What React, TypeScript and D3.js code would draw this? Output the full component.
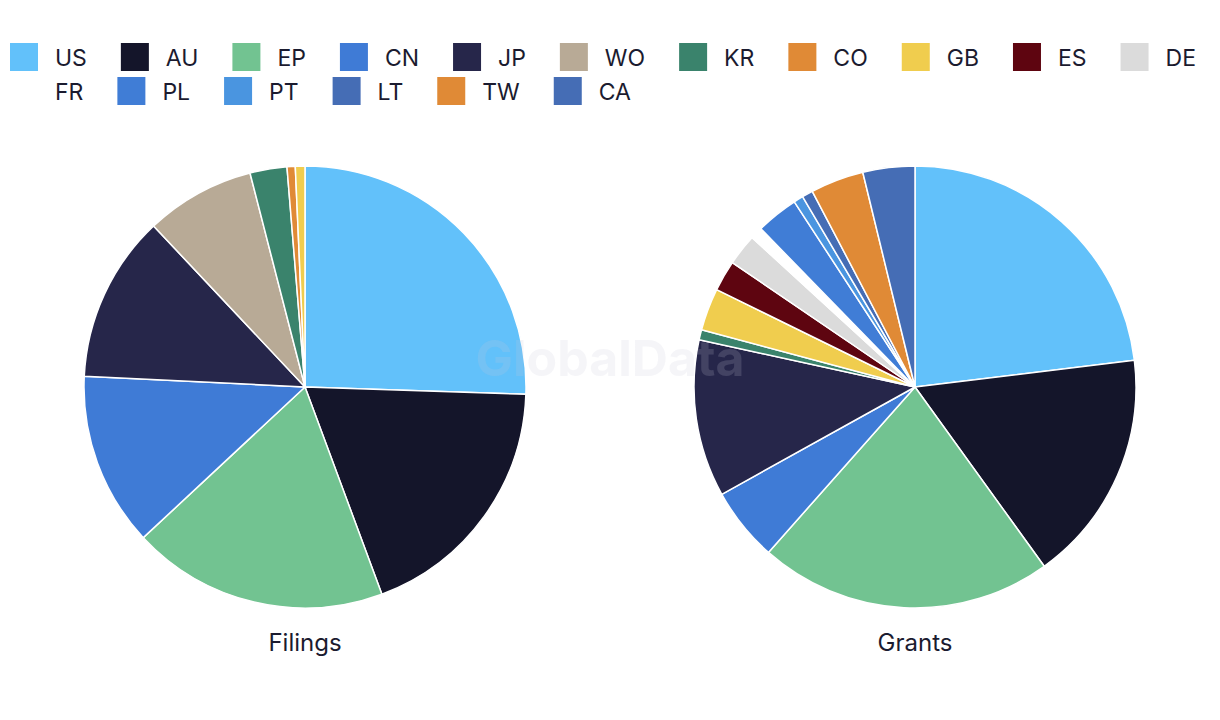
import React, { useMemo } from "react";
import * as d3 from "d3";

const categories = ["US", "AU", "EP", "CN", "JP", "WO", "KR", "CO", "GB", "ES", "DE", "FR", "PL", "PT", "LT", "TW", "CA"];
const colors = ["#62C1FA", "#14152A", "#72C391", "#3F7BD6", "#26264A", "#B8AA96", "#3A836C", "#E08A36", "#F0CD4E", "#5E0510", "#DBDBDB", "#FFFFFF", "#407DD6", "#4A95E0", "#456DB5", "#E08A36", "#456DB5"];
const filings = [25.5, 18.8, 18.7, 12.7, 12.2, 8.0, 2.7, 0.6, 0.7, 0, 0, 0, 0, 0, 0, 0, 0];
const grants = [23.1, 17.0, 21.5, 5.4, 11.5, 0, 0.75, 0, 3.1, 2.25, 2.3, 0.9, 3.1, 0.7, 0.8, 3.9, 3.8];
const pieTitles = ["Filings", "Grants"];

const FONT = "Inter, 'Noto Sans', sans-serif";
const TEXT = "#1b1b2f";

function measure(text: string, size: number) {
  const c = document.createElement("canvas").getContext("2d")!;
  c.font = `${size}px Inter`;
  return c.measureText(text).width;
}

export default function App() {
  const W = 1220, H = 720;
  const legendSize = 23;
  const legend = useMemo(() => {
    const items: { x: number; y: number; i: number }[] = [];
    let x = 10, row = 0;
    categories.forEach((c, i) => {
      const w = 45 + measure(c, legendSize);
      if (x + w > W - 8) { x = 10; row += 1; }
      items.push({ x, y: 43 + row * 34, i });
      x += w + 34;
    });
    return items;
  }, []);

  const pie = d3.pie<number>().sort(null).value((d) => d);
  const R = 221;
  const arc = d3.arc<d3.PieArcDatum<number>>().innerRadius(0).outerRadius(R);
  const centersX = d3.scalePoint<string>().domain(pieTitles).range([305, 915]);
  const cy = 387;

  return (
    <div style={{ position: "fixed", left: 0, top: 0, width: W, height: H, overflow: "hidden", background: "#fff" }}>
      <svg width={W} height={H} style={{ display: "block", fontFamily: FONT }}>
        {legend.map(({ x, y, i }) => (
          <g key={categories[i]}>
            <rect x={x} y={y} width={28} height={28} fill={colors[i]} />
            <text x={x + 45} y={y + 23} fontSize={legendSize} fill={TEXT}>{categories[i]}</text>
          </g>
        ))}
        {[filings, grants].map((vals, k) => {
          const cx = centersX(pieTitles[k])!;
          const arcs = pie(vals);
          return (
            <g key={pieTitles[k]} transform={`translate(${cx},${cy})`}>
              {arcs.filter((a) => a.value > 0).map((a) => (
                <path key={a.index} d={arc(a)!} fill={colors[a.index]} stroke="#fff" strokeWidth={1.5} strokeLinejoin="round" />
              ))}
              <text x={0} y={R + 43} textAnchor="middle" fontSize={24} fill={TEXT}>{pieTitles[k]}</text>
            </g>
          );
        })}
        <text x={610} y={376} textAnchor="middle" fontSize={50} fontWeight={700} fill="rgb(200,200,215)" fillOpacity={0.18}>GlobalData</text>
      </svg>
    </div>
  );
}
